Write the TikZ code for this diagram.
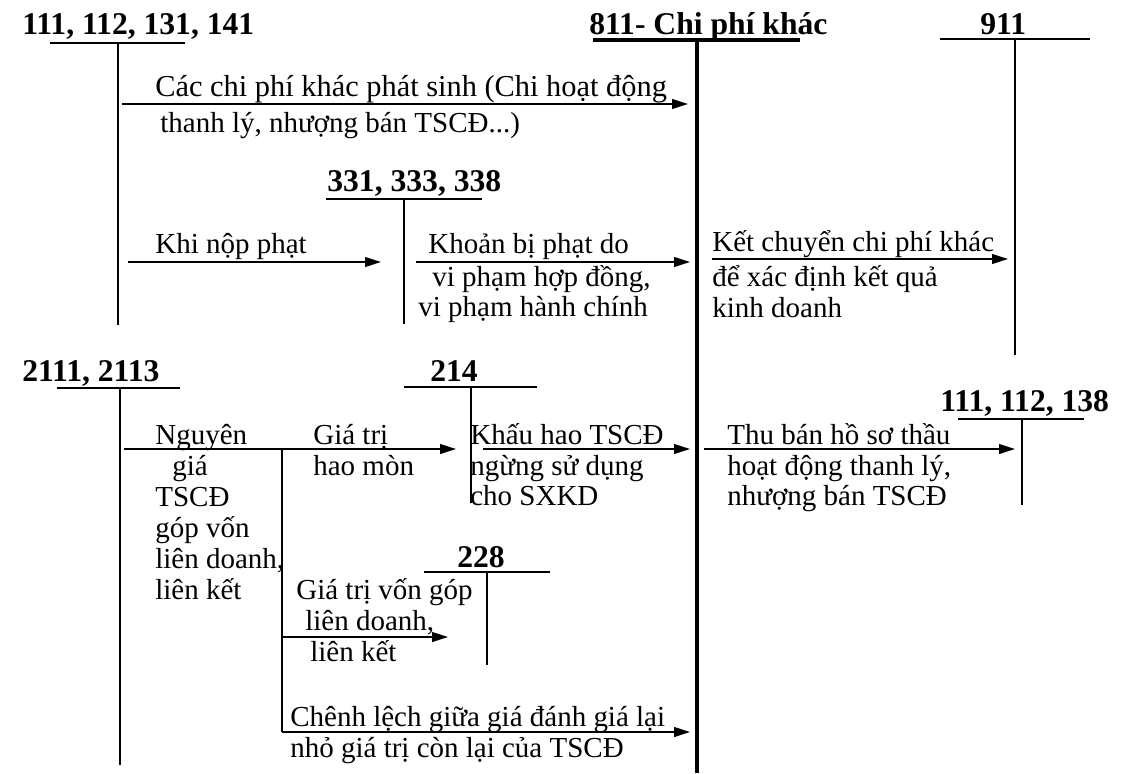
\documentclass[tikz,border=0pt]{standalone}
\usepackage{fontspec}
\setmainfont{Liberation Serif}
\usetikzlibrary{arrows.meta}

\begin{document}
\begin{tikzpicture}[x=0.02cm, y=-0.02cm,
    acc/.style={font=\fontsize{18}{21}\selectfont\bfseries, anchor=base west, inner sep=0pt},
    txt/.style={font=\fontsize{16.5}{20}\selectfont, anchor=base west, inner sep=0pt},
    tline/.style={line width=1.1pt},
    bigline/.style={line width=2.2pt},
    arr/.style={-{Triangle[length=9pt,width=5.5pt]}, line width=1pt}]
        \useasboundingbox (0,0) rectangle (1124,773);

        % Account 111, 112, 131, 141
        \node[acc] (a111) at (22,35) {111, 112, 131, 141};
        \draw[tline] (50,43) -- (185,43);
        \draw[tline] (118,43) -- (118,325);

        % Account 811
        \node[acc] (a811) at (589,35) {811- Chi phí khác};
        \draw[bigline] (593,40) -- (800,40);
        \draw[bigline] (697,40) -- (697,773);

        % Account 911
        \node[acc] (a911) at (980,35) {911};
        \draw[tline] (940,39) -- (1090,39);
        \draw[tline] (1015,39) -- (1015,355);

        % Other costs
        \coordinate (c1s) at (122,104);
        \coordinate (c1e) at (688,104);
        \draw[arr] (c1s) -- (c1e);
        \node[txt, font=\fontsize{17.3}{20}\selectfont] (t1a) at (155,97) {Các chi phí khác phát sinh (Chi hoạt động};
        \node[txt] (t1b) at (160,133) {thanh lý, nhượng bán TSCĐ...)};

        % Account 331, 333, 338
        \node[acc] (a331) at (327,192) {331, 333, 338};
        \draw[tline] (326,199) -- (482,199);
        \draw[tline] (404,199) -- (404,324);

        % Fines
        \coordinate (c2s) at (128,262);
        \coordinate (c2e) at (381,262);
        \draw[arr] (c2s) -- (c2e);
        \node[txt] (t2a) at (155,254) {Khi nộp phạt};

        \coordinate (c3s) at (416,262);
        \coordinate (c3e) at (690,262);
        \draw[arr] (c3s) -- (c3e);
        \node[txt] (t3a) at (428,254) {Khoản bị phạt do};
        \node[txt] (t3b) at (432,286) {vi phạm hợp đồng,};
        \node[txt] (t3c) at (418,316) {vi phạm hành chính};

        % Closing to 911
        \coordinate (c4s) at (712,259);
        \coordinate (c4e) at (1008,259);
        \draw[arr] (c4s) -- (c4e);
        \node[txt] (t4a) at (712,252) {Kết chuyển chi phí khác};
        \node[txt] (t4b) at (712,286) {để xác định kết quả};
        \node[txt] (t4c) at (712,317) {kinh doanh};

        % Account 2111, 2113
        \node[acc] (a2111) at (22,381) {2111, 2113};
        \draw[tline] (57,388) -- (180,388);
        \draw[tline] (120,388) -- (120,765);

        % Account 214
        \node[acc] (a214) at (430,381) {214};
        \draw[tline] (404,387) -- (537,387);
        \draw[tline] (471,387) -- (471,503);

        % Account 111, 112, 138
        \node[acc] (a138) at (940,411) {111, 112, 138};
        \draw[tline] (958,419) -- (1084,419);
        \draw[tline] (1022,419) -- (1022,505);

        % Fixed assets contributed
        \coordinate (c5s) at (124,449);
        \coordinate (c5b) at (282,449);
        \coordinate (c5e) at (456,449);
        \draw[arr] (c5s) -- (c5e);
        \node[txt] (t5a) at (155,444) {Nguyên};
        \node[txt] (t5b) at (172,475) {giá};
        \node[txt] (t5c) at (155,506) {TSCĐ};
        \node[txt] (t5d) at (155,537) {góp vốn};
        \node[txt] (t5e) at (155,568) {liên doanh,};
        \node[txt] (t5f) at (155,599) {liên kết};
        \node[txt] (t5g) at (313,444) {Giá trị};
        \node[txt] (t5h) at (313,475) {hao mòn};

        \coordinate (c6s) at (483,449);
        \coordinate (c6e) at (690,449);
        \draw[arr] (c6s) -- (c6e);
        \node[txt] (t6a) at (470,444) {Khấu hao TSCĐ};
        \node[txt] (t6b) at (470,475) {ngừng sử dụng};
        \node[txt] (t6c) at (470,505) {cho SXKD};

        \coordinate (c7s) at (704,449);
        \coordinate (c7e) at (1015,449);
        \draw[arr] (c7s) -- (c7e);
        \node[txt] (t7a) at (727,444) {Thu bán hồ sơ thầu};
        \node[txt] (t7b) at (727,475) {hoạt động thanh lý,};
        \node[txt] (t7c) at (727,505) {nhượng bán TSCĐ};

        % Account 228
        \node[acc] (a228) at (457,567) {228};
        \draw[tline] (424,572) -- (550,572);
        \draw[tline] (487,572) -- (487,665);

        % Branch
        \coordinate (c8b) at (282,732);
        \draw[tline] (c5b) -- (c8b);

        \coordinate (c9s) at (282,637);
        \coordinate (c9e) at (448,637);
        \draw[arr] (c9s) -- (c9e);
        \node[txt] (t9a) at (296,599) {Giá trị vốn góp};
        \node[txt] (t9b) at (305,630) {liên doanh,};
        \node[txt] (t9c) at (310,661) {liên kết};

        \draw[arr] (c8b) -- (690,732) coordinate (c8e);
        \node[txt] (t8a) at (290,726) {Chênh lệch giữa giá đánh giá lại};
        \node[txt] (t8b) at (290,757) {nhỏ giá trị còn lại của TSCĐ};
    \end{tikzpicture}
\end{document}
